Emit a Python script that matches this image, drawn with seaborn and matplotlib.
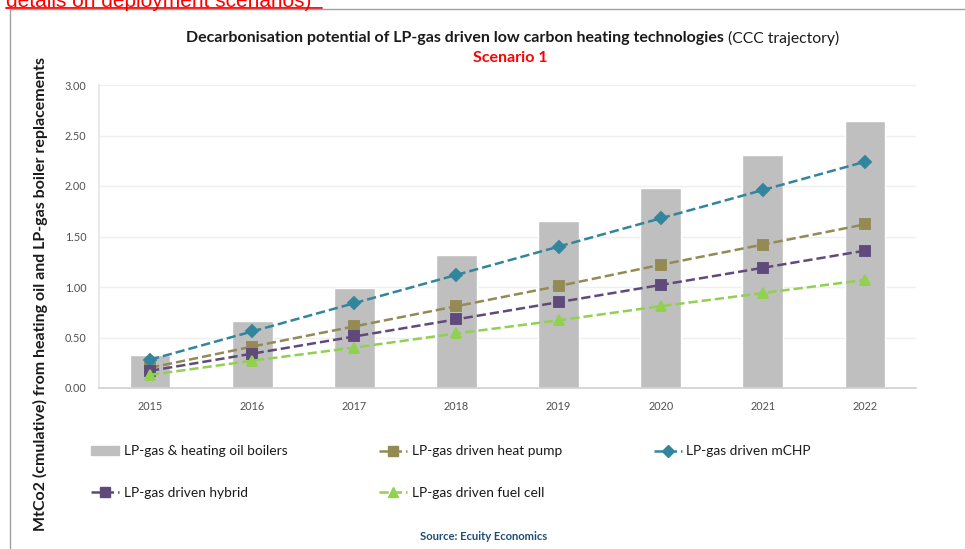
import matplotlib
matplotlib.use("Agg")
import matplotlib.pyplot as plt
from matplotlib.lines import Line2D
from matplotlib.patches import Patch
import seaborn as sns
import pandas as pd

years = ["2015", "2016", "2017", "2018", "2019", "2020", "2021", "2022"]
boilers = [0.33, 0.66, 0.99, 1.32, 1.65, 1.98, 2.31, 2.64]
heat_pump = [0.20, 0.41, 0.61, 0.81, 1.01, 1.22, 1.42, 1.62]
mchp = [0.28, 0.56, 0.84, 1.12, 1.40, 1.68, 1.96, 2.24]
hybrid = [0.17, 0.34, 0.51, 0.68, 0.85, 1.02, 1.19, 1.36]
fuel_cell = [0.13, 0.27, 0.40, 0.54, 0.67, 0.81, 0.94, 1.07]

series_names = ["LP-gas driven heat pump", "LP-gas driven mCHP",
                "LP-gas driven hybrid", "LP-gas driven fuel cell"]
series_vals = [heat_pump, mchp, hybrid, fuel_cell]
series_colors = ["#948A54", "#31859C", "#604A7B", "#92D050"]
series_markers = ["s", "D", "s", "^"]
series_msize = [7, 6, 7, 7]
bar_name = "LP-gas & heating oil boilers"
bar_color = "#BFBFBF"

sns.set_theme(style="white")
plt.rcParams["font.family"] = ["Lato", "DejaVu Sans"]

fig = plt.figure(figsize=(9.65, 5.49), dpi=100)
ax = fig.add_axes([99/965, 1-388/549, (916-99)/965, (388-85)/549])

bdf = pd.DataFrame({"year": years, "value": boilers})
sns.barplot(data=bdf, x="year", y="value", color=bar_color, width=0.4,
            saturation=1, ax=ax, zorder=2)

for name, vals, col, mk, ms in zip(series_names, series_vals, series_colors,
                                   series_markers, series_msize):
    d = pd.DataFrame({"year": years, "value": vals})
    sns.pointplot(data=d, x="year", y="value", color=col, marker=mk,
                  linestyle="--", markersize=ms, linewidth=1.8, ax=ax,
                  errorbar=None, zorder=3)

ticks = [0, 0.5, 1.0, 1.5, 2.0, 2.5, 3.0]
ax.set_ylim(0, 3.0)
ax.set_xlim(-0.5, 7.5)
ax.set_yticks(ticks)
ax.set_yticklabels([f"{v:.2f}" for v in ticks])
ax.yaxis.grid(True, color="#EFEFEF", linewidth=1)
ax.set_axisbelow(True)
ax.set_xlabel("")
ax.set_ylabel("")
ax.tick_params(axis="both", labelsize=7.8, colors="#505050", length=0, pad=9)
for s in ["top", "right"]:
    ax.spines[s].set_visible(False)
ax.spines["left"].set_color("#E4E4E4")
ax.spines["bottom"].set_color("#D0D0D0")
ax.spines["left"].set_linewidth(1.2)
ax.spines["bottom"].set_linewidth(1.2)

# Titles
fig.text(724/965, 1-38/549,
         "Decarbonisation potential of LP-gas driven low carbon heating technologies",
         ha="right", va="center", fontsize=11.5, fontweight="bold", color="#1a1a1a")
fig.text(728/965, 1-38/549, "(CCC trajectory)", ha="left", va="center",
         fontsize=11.3, color="#1a1a1a")
fig.text(510/965, 1-58/549, "Scenario 1", ha="center", va="center",
         fontsize=11.5, fontweight="bold", color="#FF0000")

fig.text(40/965, 1-294/549,
         "MtCo2 (cmulative) from heating oil and LP-gas boiler replacements",
         rotation=90, ha="center", va="center", fontsize=11.5,
         fontweight="bold", color="#1a1a1a")

# top red cropped text
fig.text(6/965, 1-7/549, "details on deployment scenarios)", ha="left",
         va="baseline", fontsize=15, color="#FF0000",
         family=["Liberation Sans", "DejaVu Sans"])
fig.add_artist(Line2D([6/965, 322/965], [1-8/549, 1-8/549], color="#FF0000",
                      linewidth=1.3))
# frame
fig.add_artist(Line2D([10/965, 10/965], [0, 1-9/549], color="#A0A0A0", linewidth=1))
fig.add_artist(Line2D([10/965, 1], [1-9/549, 1-9/549], color="#A0A0A0", linewidth=1))

# Legend
handles = [Patch(facecolor=bar_color, edgecolor=bar_color)]
labels = [bar_name]
for name, col, mk, ms in zip(series_names, series_colors, series_markers, series_msize):
    handles.append(Line2D([0], [0], color=col, linestyle="--", marker=mk,
                          markersize=ms, linewidth=1.8))
    labels.append(name)
# column-major order: boilers, hybrid | heat pump, fuel cell | mCHP
order = [0, 3, 1, 4, 2]
leg = fig.legend([handles[i] for i in order], [labels[i] for i in order],
                 ncol=3, loc="upper left", bbox_to_anchor=(79/965, 1-433/549),
                 frameon=False, fontsize=9.9, handlelength=2.0, handletextpad=0.35,
                 columnspacing=6.7, labelspacing=2.15)
for t in leg.get_texts():
    t.set_color("#1a1a1a")

fig.text(484/965, 1-536/549, "Source: Ecuity Economics", ha="center",
         va="center", fontsize=8.1, fontweight="bold", color="#1F4E79")

fig.savefig("out.png", dpi=100)
